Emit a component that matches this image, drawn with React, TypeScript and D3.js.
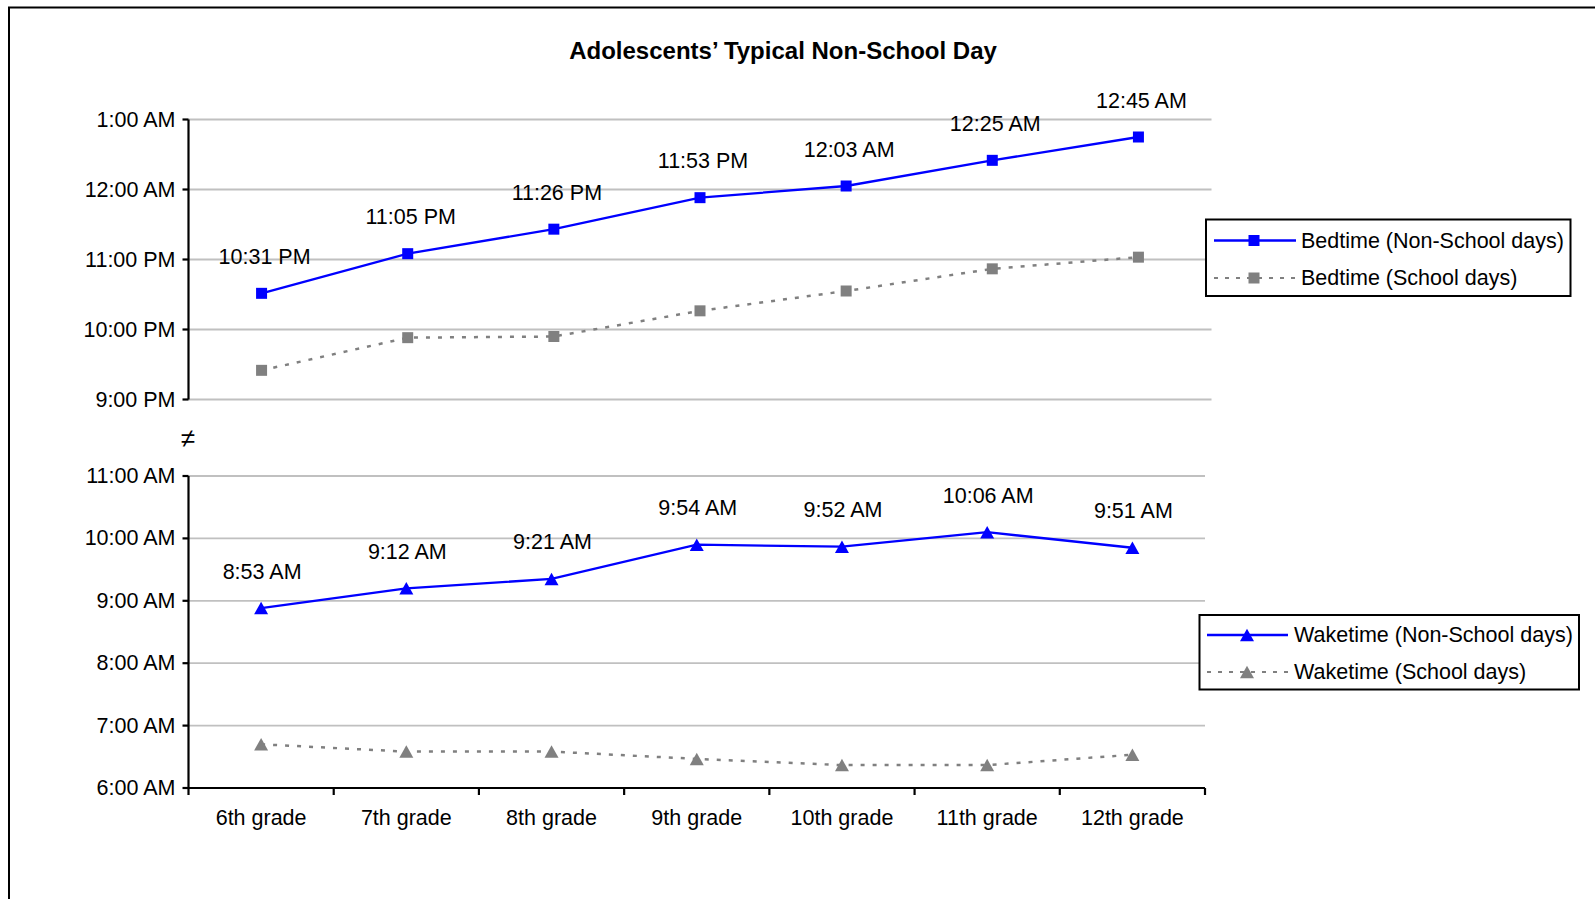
import React, { useEffect } from "react";
import * as d3 from "d3";

// ---------- data ----------
const grades = ["6th grade", "7th grade", "8th grade", "9th grade", "10th grade", "11th grade", "12th grade"];

// times as "H:MM" in 24h clock; hours >= 24 mean after midnight
const bedtimeNonSchool = ["22:31", "23:05", "23:26", "23:53", "24:03", "24:25", "24:45"];
const bedtimeSchool = ["21:25", "21:53", "21:54", "22:16", "22:33", "22:52", "23:02"];
const waketimeNonSchool = ["8:53", "9:12", "9:21", "9:54", "9:52", "10:06", "9:51"];
const waketimeSchool = ["6:42", "6:35", "6:35", "6:28", "6:22", "6:22", "6:32"];

const upperTicks = ["21:00", "22:00", "23:00", "24:00", "25:00"];
const lowerTicks = ["6:00", "7:00", "8:00", "9:00", "10:00", "11:00"];

const title = "Adolescents\u2019 Typical Non-School Day";
const legendUpper = ["Bedtime (Non-School days)", "Bedtime (School days)"];
const legendLower = ["Waketime (Non-School days)", "Waketime (School days)"];

// ---------- helpers ----------
const toMin = (s: string) => {
  const [h, m] = s.split(":").map(Number);
  return h * 60 + m;
};
const fmt = (s: string) => {
  const [h, m] = s.split(":").map(Number);
  const hh = h % 24;
  const ampm = hh >= 12 ? "PM" : "AM";
  const h12 = hh % 12 === 0 ? 12 : hh % 12;
  return `${h12}:${String(m).padStart(2, "0")} ${ampm}`;
};

const FONT = "'Liberation Sans', Arial, Helvetica, sans-serif";
const BLUE = "#0000ff";
const GRAY = "#808080";
const GRID = "#c0c0c0";
const FS = 21.5;

function Square({ x, y, fill }: { x: number; y: number; fill: string }) {
  const s = 11;
  return <rect x={x - s / 2} y={y - s / 2} width={s} height={s} fill={fill} />;
}
function Tri({ x, y, fill }: { x: number; y: number; fill: string }) {
  const w = 14, h = 12.5;
  return <path d={`M${x},${y - h / 2}L${x + w / 2},${y + h / 2}L${x - w / 2},${y + h / 2}Z`} fill={fill} />;
}

export default function App() {
  useEffect(() => {
    document.body.style.margin = "0";
    document.body.style.overflow = "hidden";
  }, []);

  // upper panel scales
  const xU = d3.scaleBand<string>().domain(grades).range([188.5, 1211.5]);
  const yU = d3.scaleLinear().domain([toMin("21:00"), toMin("25:00")]).range([399.5, 119.5]);
  // lower panel scales
  const xL = d3.scaleBand<string>().domain(grades).range([188.5, 1205]);
  const yL = d3.scaleLinear().domain([toMin("6:00"), toMin("11:00")]).range([788, 476]);

  const cxU = (g: string) => (xU(g) as number) + xU.bandwidth() / 2;
  const cxL = (g: string) => (xL(g) as number) + xL.bandwidth() / 2;

  const lineU = (vals: string[]) =>
    d3.line<string>().x((_, i) => cxU(grades[i])).y((v) => yU(toMin(v)))(vals) as string;
  const lineL = (vals: string[]) =>
    d3.line<string>().x((_, i) => cxL(grades[i])).y((v) => yL(toMin(v)))(vals) as string;

  const [u0, u1] = xU.range();
  const [l0, l1] = xL.range();
  const lowerBoundaries = grades.map((g) => xL(g) as number).concat([l1]);

  return (
    <svg width={1595} height={899} style={{ position: "absolute", left: 0, top: 0 }} fontFamily={FONT}>
      <rect x={0} y={0} width={1595} height={899} fill="#fff" />
      {/* outer frame */}
      <rect x={9} y={7.5} width={1700} height={1000} fill="none" stroke="#000" strokeWidth={2} />

      {/* title */}
      <text x={783} y={58.5} textAnchor="middle" fontWeight="bold" fontSize={24} fill="#000">
        {title}
      </text>

      {/* ===== upper panel ===== */}
      {upperTicks.map((t) => (
        <line key={"gu" + t} x1={u0} x2={u1} y1={yU(toMin(t))} y2={yU(toMin(t))} stroke={GRID} strokeWidth={1.8} />
      ))}
      <line x1={u0} x2={u0} y1={yU.range()[1]} y2={yU.range()[0]} stroke="#000" strokeWidth={2.2} />
      {upperTicks.map((t) => (
        <g key={"tu" + t}>
          <line x1={u0 - 6} x2={u0} y1={yU(toMin(t))} y2={yU(toMin(t))} stroke="#000" strokeWidth={2.2} />
          <text x={175.5} y={yU(toMin(t))} textAnchor="end" dominantBaseline="central" fontSize={FS} fill="#000">
            {fmt(t)}
          </text>
        </g>
      ))}
      <path d={lineU(bedtimeSchool)} fill="none" stroke={GRAY} strokeWidth={2.5} strokeDasharray="4 8" />
      <path d={lineU(bedtimeNonSchool)} fill="none" stroke={BLUE} strokeWidth={2.3} />
      {bedtimeSchool.map((v, i) => (
        <Square key={"bs" + i} x={cxU(grades[i])} y={yU(toMin(v))} fill={GRAY} />
      ))}
      {bedtimeNonSchool.map((v, i) => (
        <g key={"bn" + i}>
          <Square x={cxU(grades[i])} y={yU(toMin(v))} fill={BLUE} />
          <text x={cxU(grades[i]) + 3} y={yU(toMin(v)) - 29.5} textAnchor="middle" fontSize={FS} fill="#000">
            {fmt(v)}
          </text>
        </g>
      ))}

      {/* break symbol */}
      <text x={188} y={438} textAnchor="middle" dominantBaseline="central" fontSize={26} fill="#000">
        ≠
      </text>

      {/* ===== lower panel ===== */}
      {lowerTicks.slice(1).map((t) => (
        <line key={"gl" + t} x1={l0} x2={l1} y1={yL(toMin(t))} y2={yL(toMin(t))} stroke={GRID} strokeWidth={1.8} />
      ))}
      <line x1={l0} x2={l0} y1={yL.range()[1]} y2={yL.range()[0]} stroke="#000" strokeWidth={2.2} />
      <line x1={l0} x2={l1} y1={yL.range()[0]} y2={yL.range()[0]} stroke="#000" strokeWidth={2.2} />
      {lowerTicks.map((t) => (
        <g key={"tl" + t}>
          <line x1={l0 - 6} x2={l0} y1={yL(toMin(t))} y2={yL(toMin(t))} stroke="#000" strokeWidth={2.2} />
          <text x={175.5} y={yL(toMin(t))} textAnchor="end" dominantBaseline="central" fontSize={FS} fill="#000">
            {fmt(t)}
          </text>
        </g>
      ))}
      {lowerBoundaries.map((bx, i) => (
        <line key={"xb" + i} x1={bx} x2={bx} y1={yL.range()[0]} y2={yL.range()[0] + 7} stroke="#000" strokeWidth={2.2} />
      ))}
      {grades.map((g) => (
        <text key={"xl" + g} x={cxL(g)} y={825} textAnchor="middle" fontSize={FS} fill="#000">
          {g}
        </text>
      ))}
      <path d={lineL(waketimeSchool)} fill="none" stroke={GRAY} strokeWidth={2.5} strokeDasharray="4 8" />
      <path d={lineL(waketimeNonSchool)} fill="none" stroke={BLUE} strokeWidth={2.3} />
      {waketimeSchool.map((v, i) => (
        <Tri key={"ws" + i} x={cxL(grades[i])} y={yL(toMin(v))} fill={GRAY} />
      ))}
      {waketimeNonSchool.map((v, i) => (
        <g key={"wn" + i}>
          <Tri x={cxL(grades[i])} y={yL(toMin(v))} fill={BLUE} />
          <text x={cxL(grades[i]) + 1} y={yL(toMin(v)) - 29.5} textAnchor="middle" fontSize={FS} fill="#000">
            {fmt(v)}
          </text>
        </g>
      ))}

      {/* ===== legends ===== */}
      <g>
        <rect x={1206} y={219.5} width={364.5} height={76.5} fill="#fff" stroke="#000" strokeWidth={2} />
        <line x1={1214} x2={1296} y1={240.5} y2={240.5} stroke={BLUE} strokeWidth={2.3} />
        <Square x={1254} y={240.5} fill={BLUE} />
        <text x={1301} y={240.5} dominantBaseline="central" fontSize={FS} fill="#000">{legendUpper[0]}</text>
        <line x1={1214} x2={1296} y1={278} y2={278} stroke={GRAY} strokeWidth={2} strokeDasharray="4 7" />
        <Square x={1254} y={278} fill={GRAY} />
        <text x={1301} y={278} dominantBaseline="central" fontSize={FS} fill="#000">{legendUpper[1]}</text>
      </g>
      <g>
        <rect x={1199.5} y={615} width={379.5} height={74.5} fill="#fff" stroke="#000" strokeWidth={2} />
        <line x1={1207} x2={1288} y1={635} y2={635} stroke={BLUE} strokeWidth={2.3} />
        <Tri x={1247} y={635} fill={BLUE} />
        <text x={1294} y={635} dominantBaseline="central" fontSize={FS} fill="#000">{legendLower[0]}</text>
        <line x1={1207} x2={1288} y1={672} y2={672} stroke={GRAY} strokeWidth={2} strokeDasharray="4 7" />
        <Tri x={1247} y={672} fill={GRAY} />
        <text x={1294} y={672} dominantBaseline="central" fontSize={FS} fill="#000">{legendLower[1]}</text>
      </g>
    </svg>
  );
}
